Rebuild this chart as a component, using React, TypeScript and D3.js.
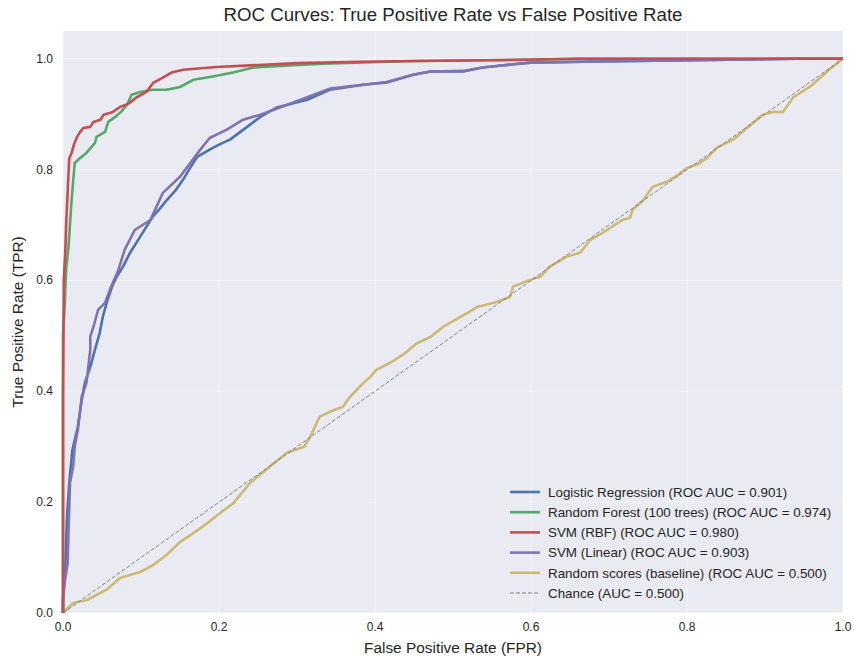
import React from 'react';
import * as d3 from 'd3';

// [fpr, tpr] pairs
const logisticPts: [number, number][] = [
  [0, 0], [0, 0.02], [0.003, 0.083], [0.005, 0.17], [0.008, 0.235], [0.012, 0.294], [0.019, 0.336],
  [0.024, 0.384], [0.028, 0.415], [0.035, 0.444], [0.041, 0.475], [0.047, 0.505], [0.051, 0.534],
  [0.056, 0.56], [0.063, 0.589], [0.069, 0.607], [0.077, 0.625], [0.086, 0.65], [0.099, 0.679],
  [0.107, 0.697], [0.115, 0.715], [0.124, 0.729], [0.133, 0.745], [0.144, 0.762], [0.154, 0.782],
  [0.163, 0.803], [0.172, 0.823], [0.188, 0.836], [0.2, 0.845], [0.214, 0.854], [0.236, 0.877],
  [0.253, 0.895], [0.274, 0.912], [0.313, 0.926], [0.342, 0.944], [0.385, 0.953],
  [0.415, 0.957], [0.449, 0.971], [0.471, 0.977], [0.513, 0.977], [0.538, 0.984], [0.556, 0.987],
  [0.599, 0.993], [0.685, 0.995], [0.855, 0.998], [0.94, 1.0], [1, 1],
];

const forestPts: [number, number][] = [
  [0, 0], [0, 0.5], [0.002, 0.55], [0.004, 0.62], [0.007, 0.66], [0.011, 0.745], [0.015, 0.812],
  [0.022, 0.821], [0.03, 0.83], [0.041, 0.848], [0.043, 0.859], [0.054, 0.868], [0.058, 0.886],
  [0.067, 0.895], [0.075, 0.905], [0.082, 0.917], [0.088, 0.935], [0.099, 0.94], [0.115, 0.944],
  [0.133, 0.944], [0.15, 0.949], [0.167, 0.962], [0.192, 0.968], [0.218, 0.975], [0.244, 0.984],
  [0.278, 0.987], [0.333, 0.991], [0.45, 0.996], [0.6, 0.998], [0.66, 1.0], [1, 1],
];

const svmRbfPts: [number, number][] = [
  [0, 0], [0, 0.38], [0.001, 0.6], [0.003, 0.655], [0.004, 0.7], [0.006, 0.76], [0.008, 0.82],
  [0.011, 0.83], [0.014, 0.845], [0.018, 0.859], [0.022, 0.868], [0.026, 0.875], [0.035, 0.877],
  [0.039, 0.886], [0.048, 0.89], [0.052, 0.899], [0.064, 0.904], [0.073, 0.913], [0.084, 0.919],
  [0.094, 0.93], [0.107, 0.94], [0.116, 0.957], [0.128, 0.966], [0.139, 0.975], [0.154, 0.98],
  [0.197, 0.985], [0.24, 0.988], [0.3, 0.992], [0.4, 0.995], [0.586, 0.998], [0.66, 1.0], [1, 1],
];

const svmLinearPts: [number, number][] = [
  [0, 0], [0, 0.03], [0.002, 0.054], [0.006, 0.09], [0.007, 0.144], [0.009, 0.235], [0.013, 0.264],
  [0.015, 0.3], [0.019, 0.33], [0.024, 0.39], [0.03, 0.415], [0.035, 0.475], [0.035, 0.499],
  [0.039, 0.516], [0.045, 0.547], [0.054, 0.56], [0.06, 0.583], [0.071, 0.619], [0.079, 0.655],
  [0.092, 0.691], [0.112, 0.709], [0.128, 0.758], [0.15, 0.787], [0.176, 0.836], [0.188, 0.857],
  [0.21, 0.872], [0.231, 0.89], [0.253, 0.899], [0.278, 0.912], [0.342, 0.946], [0.385, 0.953],
  [0.415, 0.958], [0.449, 0.971], [0.471, 0.977], [0.513, 0.978], [0.538, 0.984], [0.556, 0.987],
  [0.599, 0.993], [0.685, 0.995], [0.855, 0.998], [0.94, 1.0], [1, 1],
];

const randomPts: [number, number][] = [
  [0, 0], [0.013, 0.018], [0.03, 0.023], [0.056, 0.042], [0.073, 0.063], [0.099, 0.074],
  [0.116, 0.087], [0.133, 0.105], [0.15, 0.128], [0.167, 0.144], [0.185, 0.162], [0.201, 0.18],
  [0.219, 0.199], [0.24, 0.235], [0.265, 0.264], [0.287, 0.289], [0.309, 0.3], [0.317, 0.318],
  [0.329, 0.354], [0.342, 0.363], [0.359, 0.372], [0.368, 0.39], [0.385, 0.415], [0.394, 0.426],
  [0.402, 0.439], [0.419, 0.451], [0.436, 0.466], [0.454, 0.487], [0.471, 0.498], [0.487, 0.516],
  [0.509, 0.534], [0.531, 0.552], [0.556, 0.561], [0.573, 0.57], [0.577, 0.589], [0.599, 0.601],
  [0.612, 0.607], [0.624, 0.625], [0.646, 0.643], [0.663, 0.65], [0.676, 0.673], [0.692, 0.686],
  [0.717, 0.709], [0.727, 0.713], [0.73, 0.727], [0.744, 0.745], [0.756, 0.769], [0.774, 0.778],
  [0.788, 0.79], [0.8, 0.803], [0.813, 0.809], [0.826, 0.821], [0.838, 0.839], [0.859, 0.854],
  [0.871, 0.868], [0.897, 0.899], [0.91, 0.904], [0.923, 0.904], [0.936, 0.93], [0.958, 0.95],
  [0.983, 0.981], [1, 1],
];

const chancePts: [number, number][] = [[0, 0], [1, 1]];

const seriesNames = [
  'Logistic Regression (ROC AUC = 0.901)',
  'Random Forest (100 trees) (ROC AUC = 0.974)',
  'SVM (RBF) (ROC AUC = 0.980)',
  'SVM (Linear) (ROC AUC = 0.903)',
  'Random scores (baseline) (ROC AUC = 0.500)',
];
const chanceName = 'Chance (AUC = 0.500)';
const seriesColors = ['#4C72B0', '#55A868', '#C44E52', '#8172B2', '#CCB974'];
const seriesPoints = [logisticPts, forestPts, svmRbfPts, svmLinearPts, randomPts];
// drawing order: random first so the models sit on top
const drawOrder = [4, 0, 1, 3, 2];

const xTicks = [0, 0.2, 0.4, 0.6, 0.8, 1.0];
const yTicks = [0, 0.2, 0.4, 0.6, 0.8, 1.0];

const W = 854;
const H = 656;
const font = '"Liberation Sans", Arial, sans-serif';

export default function App() {
  const x = d3.scaleLinear().domain([0, 1]).range([63, 843]);
  const y = d3.scaleLinear().domain([0, 1.05]).range([613, 31]);
  const line = d3.line<[number, number]>().x(d => x(d[0])).y(d => y(d[1]));

  const [x0, x1] = x.range();
  const [y0, y1] = y.range();

  return (
    <svg width={W} height={H} style={{position: 'absolute', left: 0, top: 0, background: '#fff'}}
         fontFamily={font}>
      <rect x={x0} y={y1} width={x1 - x0} height={y0 - y1} fill="#EAEAF2"/>
      {xTicks.map(t => (
        <line key={'gx' + t} x1={x(t)} x2={x(t)} y1={y1} y2={y0} stroke="#fff" strokeOpacity={0.6}
              strokeWidth={0.8}/>
      ))}
      {yTicks.map(t => (
        <line key={'gy' + t} x1={x0} x2={x1} y1={y(t)} y2={y(t)} stroke="#fff" strokeOpacity={0.6}
              strokeWidth={0.8}/>
      ))}

      <defs>
        <clipPath id="plotclip">
          <rect x={x0 - 2} y={y1} width={x1 - x0 + 4} height={y0 - y1 + 2}/>
        </clipPath>
      </defs>
      <g clipPath="url(#plotclip)">
        {drawOrder.map(i => (
          <path key={i} d={line(seriesPoints[i]) || ''} fill="none" stroke={seriesColors[i]}
                strokeWidth={2.6} strokeLinejoin="round"/>
        ))}
        <path d={line(chancePts) || ''} fill="none" stroke="#808080" strokeWidth={1}
              strokeDasharray="4,2"/>
      </g>

      {xTicks.map(t => (
        <text key={'tx' + t} x={x(t)} y={y0 + 18} textAnchor="middle" fontSize={12} fill="#262626">
          {t.toFixed(1)}
        </text>
      ))}
      {yTicks.map(t => (
        <text key={'ty' + t} x={x0 - 10} y={y(t) + 4} textAnchor="end" fontSize={12} fill="#262626">
          {t.toFixed(1)}
        </text>
      ))}

      <text x={(x0 + x1) / 2} y={653} textAnchor="middle" fontSize={15.4} fill="#262626">
        False Positive Rate (FPR)
      </text>
      <text transform={`translate(23,${(y0 + y1) / 2}) rotate(-90)`} textAnchor="middle" fontSize={15.4}
            fill="#262626">
        True Positive Rate (TPR)
      </text>
      <text x={(x0 + x1) / 2} y={21} textAnchor="middle" fontSize={18.7} fill="#262626">
        ROC Curves: True Positive Rate vs False Positive Rate
      </text>

      <g transform="translate(510,492)">
        {seriesNames.map((name, i) => (
          <g key={name} transform={`translate(0,${i * 20.2})`}>
            <line x1={0} x2={30} y1={0} y2={0} stroke={seriesColors[i]} strokeWidth={2.6}/>
            <text x={38} y={4.7} fontSize={13.4} fill="#262626">{name}</text>
          </g>
        ))}
        <g transform={`translate(0,${5 * 20.2})`}>
          <line x1={0} x2={30} y1={0} y2={0} stroke="#808080" strokeWidth={1} strokeDasharray="4,2"/>
          <text x={38} y={4.7} fontSize={13.4} fill="#262626">{chanceName}</text>
        </g>
      </g>
    </svg>
  );
}
